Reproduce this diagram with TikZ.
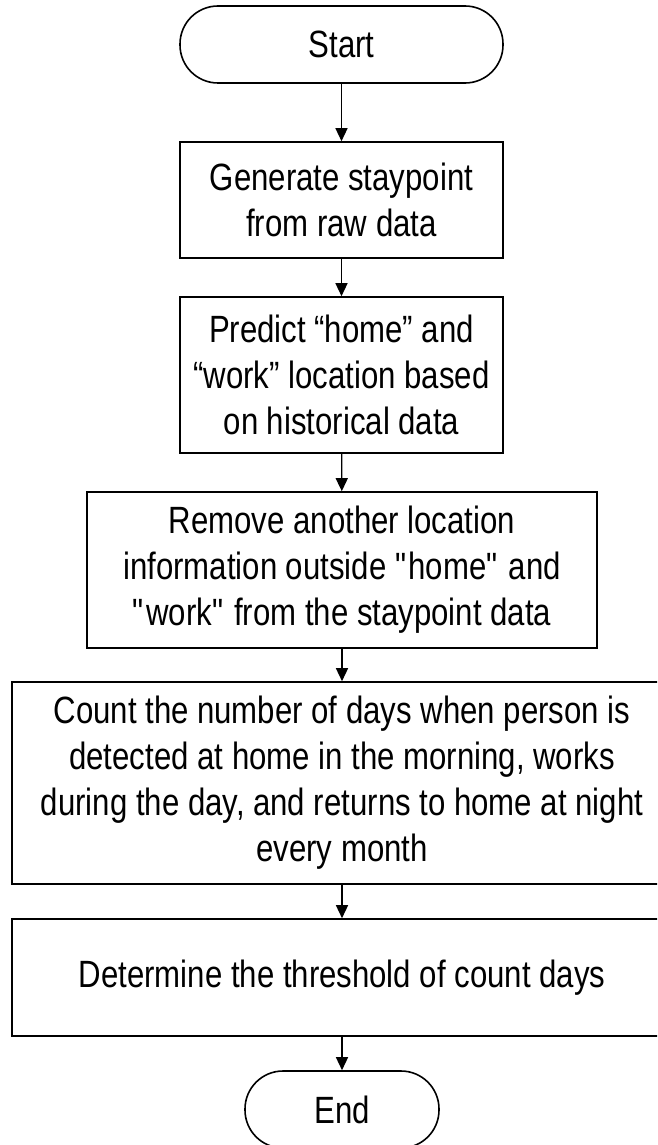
\documentclass[tikz,border=0pt]{standalone}
\usepackage{fontspec}
\setmainfont{Liberation Sans}[FakeStretch=0.82]
\usetikzlibrary{arrows.meta}
\newcommand{\dq}{\textquotedbl}
\begin{document}
\begin{tikzpicture}[x=1pt,y=-1pt,
  box/.style={draw,line width=1.6pt,align=center,inner sep=0pt,font=\fontsize{38}{46}\selectfont},
  term/.style={box,rounded corners=38pt},
  arr/.style={-{Triangle[length=13pt,width=12pt]},line width=1.4pt}]
\useasboundingbox (0,0) rectangle (657,1145);
\clip (0,0) rectangle (657,1145);
\node[term,minimum width=323pt,minimum height=77pt] (start) at (341.5,44.5) {Start};
\node[box,minimum width=323pt,minimum height=116pt] (b1) at (341.5,200) {Generate staypoint\\from raw data};
\node[box,minimum width=323pt,minimum height=156pt] (b2) at (341.5,375) {Predict “home” and\\“work” location based\\on historical data};
\node[box,minimum width=510pt,minimum height=156pt] (b3) at (342,570) {Remove another location\\information outside \dq home\dq{} and\\\dq work\dq{} from the staypoint data};
\node[box,minimum width=660pt,minimum height=202pt] (b4) at (342,783) {Count the number of days when person is\\detected at home in the morning, works\\during the day, and returns to home at night\\every month};
\node[box,minimum width=660pt,minimum height=117pt] (b5) at (342,977.5) {Determine the threshold of count days};
\node[term,minimum width=194pt,minimum height=77pt] (end) at (342,1109.5) {End};
\draw[arr] (start) -- (b1);
\draw[arr] (b1) -- (b2);
\draw[arr] (b2) -- (b3);
\draw[arr] (b3) -- (b4);
\draw[arr] (b4) -- (b5);
\draw[arr] (b5) -- (end);
\end{tikzpicture}
\end{document}
